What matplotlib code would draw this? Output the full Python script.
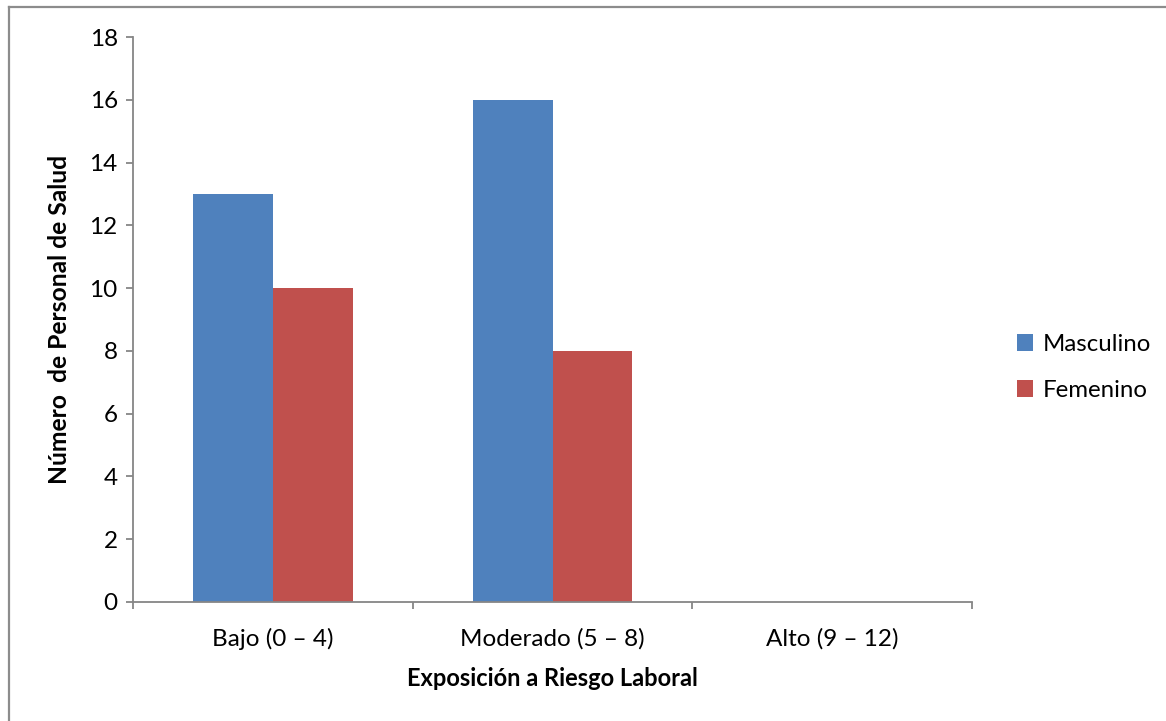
import matplotlib
matplotlib.use("Agg")
import matplotlib.pyplot as plt
from matplotlib.lines import Line2D
import numpy as np

categories = ["Bajo (0 \u2013 4)", "Moderado (5 \u2013 8)", "Alto (9 \u2013 12)"]
masculino = [13, 16, 0]
femenino = [10, 8, 0]
y_ticks = [0, 2, 4, 6, 8, 10, 12, 14, 16, 18]

plt.rcParams['font.family'] = ['Lato', 'DejaVu Sans']

W, H = 1166, 721
fig = plt.figure(figsize=(W / 100, H / 100), dpi=100)
fig.patch.set_facecolor("white")

# chart-area border (top and left edges visible)
border = "#8c8c8c"
fig.add_artist(Line2D([8.5 / W, 1.0], [1 - 6.5 / H, 1 - 6.5 / H], color=border, lw=1.6,
                      transform=fig.transFigure))
fig.add_artist(Line2D([8.5 / W, 8.5 / W], [0.0, 1 - 6.5 / H], color=border, lw=1.6,
                      transform=fig.transFigure))

left, right, top, bottom = 133, 972, 37, 602
ax = fig.add_axes([left / W, 1 - bottom / H, (right - left) / W, (bottom - top) / H])

x = np.arange(len(categories))
bw = 80 / 280
ax.bar(x - bw / 2, masculino, bw, color="#4F81BD", label="Masculino", linewidth=0)
ax.bar(x + bw / 2, femenino, bw, color="#C0504D", label="Femenino", linewidth=0)

ax.set_xlim(-0.5, len(categories) - 0.5)
ax.set_ylim(0, 18)
ax.set_yticks(y_ticks)

spine_c = "#868686"
for s in ["top", "right"]:
    ax.spines[s].set_visible(False)
for s in ["left", "bottom"]:
    ax.spines[s].set_color(spine_c)
    ax.spines[s].set_linewidth(1.3)

ax.set_xticks(x)
ax.set_xticklabels(categories)
ax.set_xticks(np.arange(-0.5, len(categories)), minor=True)
ax.tick_params(axis="x", which="major", length=0, pad=19, labelsize=17.5, colors="black")
ax.tick_params(axis="x", which="minor", length=5, width=1.3, color=spine_c, direction="out")
ax.tick_params(axis="y", which="major", length=5, width=1.3, color=spine_c, direction="out",
               pad=6, labelsize=17.5, labelcolor="black")

ax.set_xlabel("Exposición a Riesgo Laboral", fontsize=17, fontweight="bold", labelpad=12)
ax.set_ylabel("Número  de Personal de Salud", fontsize=17.7, fontweight="bold", labelpad=13)

fig.legend(loc="upper left", bbox_to_anchor=(995 / W, 1 - 312 / H), frameon=False,
           fontsize=17.3, handlelength=0.7, handleheight=0.7, handletextpad=0.4,
           labelspacing=1.05)

fig.savefig("out.png", dpi=100, facecolor="white")
